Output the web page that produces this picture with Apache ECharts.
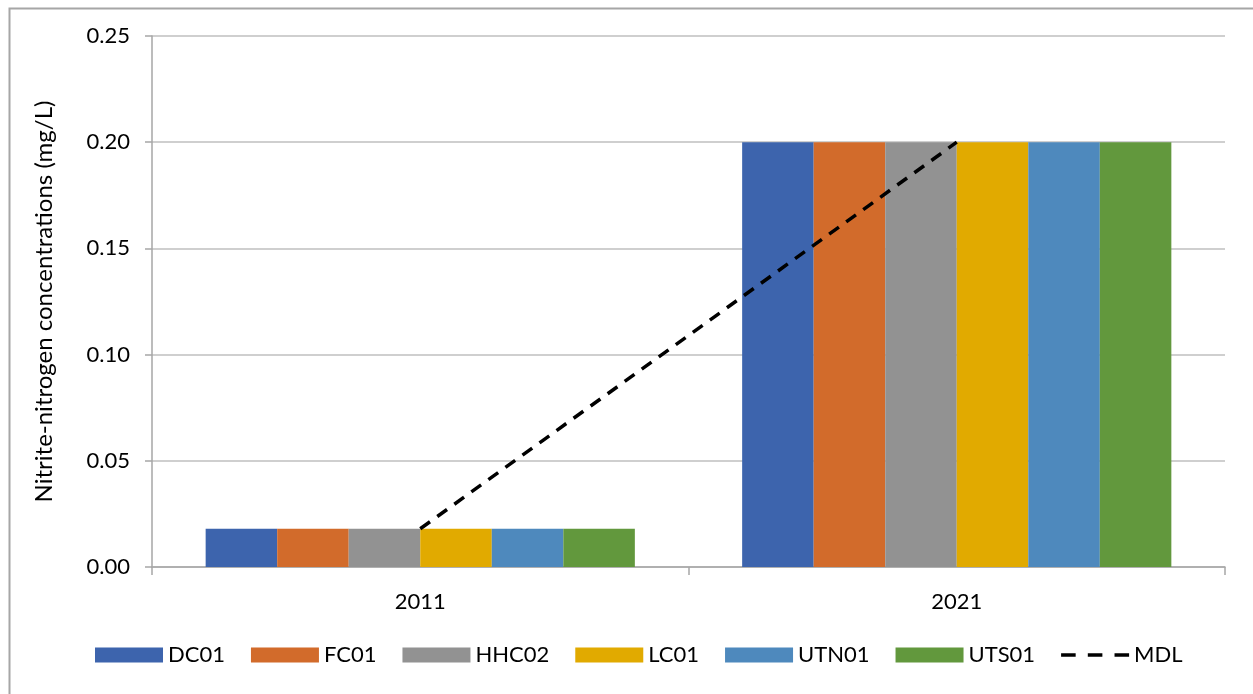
<!DOCTYPE html>
<html>
<head>
    <meta charset="utf-8">
    <title>Nitrite-nitrogen</title>
    <script src="https://cdn.jsdelivr.net/npm/echarts@6/dist/echarts.min.js"></script>
    <style>
        body { margin: 0; background: #fff; }
        #main { width: 1253px; height: 694px; }
    </style>
</head>
<body>
    <div id="main"></div>
    <script type="text/javascript">
        // data
        var years = ['2011', '2021'];
        var sites = ['DC01', 'FC01', 'HHC02', 'LC01', 'UTN01', 'UTS01'];
        var siteColors = ['#3d64ad', '#d26b2b', '#929292', '#e1aa00', '#4e89bd', '#62983d'];
        var DC01 = [0.018, 0.20];
        var FC01 = [0.018, 0.20];
        var HHC02 = [0.018, 0.20];
        var LC01 = [0.018, 0.20];
        var UTN01 = [0.018, 0.20];
        var UTS01 = [0.018, 0.20];
        var MDL = [0.018, 0.20];
        var yTicks = [0, 0.05, 0.10, 0.15, 0.20, 0.25];

        var siteValues = [DC01, FC01, HHC02, LC01, UTN01, UTS01];
        var font = 'Lato, "Open Sans", sans-serif';

        var series = [];
        for (var i = 0; i < sites.length; i++) {
            series.push({
                name: sites[i],
                type: 'bar',
                data: siteValues[i],
                barGap: '0%',
                barCategoryGap: '20%',
                itemStyle: { color: siteColors[i] }
            });
        }
        series.push({
            name: 'MDL',
            type: 'line',
            data: MDL,
            symbol: 'none',
            z: 5,
            lineStyle: { color: '#000', width: 3.5, type: [12, 9] }
        });

        var myChart = echarts.init(document.getElementById('main'));
        var option = {
            animation: false,
            backgroundColor: '#fff',
            textStyle: { fontFamily: font },
            graphic: [{
                type: 'rect',
                left: 7, top: 6,
                shape: { width: 1260, height: 700 },
                style: { fill: 'none', stroke: '#a6a6a6', lineWidth: 2 },
                z: -1
            }],
            grid: { left: 152, right: 28, top: 36, bottom: 127 },
            legend: {
                bottom: 23,
                left: 90,
                itemWidth: 68,
                itemHeight: 15,
                itemGap: 26,
                textStyle: { fontSize: 22, color: '#000', fontFamily: font },
                data: sites.map(function (s) { return { name: s, icon: 'rect' }; })
                    .concat([{ name: 'MDL', icon: 'path://M0,0 L12,0 L12,3 L0,3 Z M22,0 L34,0 L34,3 L22,3 Z M44,0 L56,0 L56,3 L44,3 Z', itemStyle: { color: '#000' } }])
            },
            xAxis: {
                type: 'category',
                data: years,
                axisLine: { lineStyle: { color: '#a6a6a6', width: 1.5 } },
                axisTick: { show: true, length: 8, lineStyle: { color: '#a6a6a6', width: 1.5 } },
                axisLabel: { fontSize: 22, color: '#000', margin: 24 }
            },
            yAxis: {
                type: 'value',
                min: 0,
                max: 0.25,
                interval: 0.05,
                name: 'Nitrite-nitrogen concentrations (mg/L)',
                nameLocation: 'middle',
                nameGap: 96,
                nameTextStyle: { fontSize: 24, color: '#000' },
                axisLine: { show: true, lineStyle: { color: '#a6a6a6', width: 1.5 } },
                axisTick: { show: true, length: 7, lineStyle: { color: '#a6a6a6', width: 1.5 } },
                splitLine: { lineStyle: { color: '#bfbfbf', width: 1.5 } },
                axisLabel: {
                    fontSize: 22, color: '#000', margin: 22,
                    formatter: function (v) { return v.toFixed(2); }
                }
            },
            series: series
        };
        myChart.setOption(option);
    </script>
</body>
</html>
